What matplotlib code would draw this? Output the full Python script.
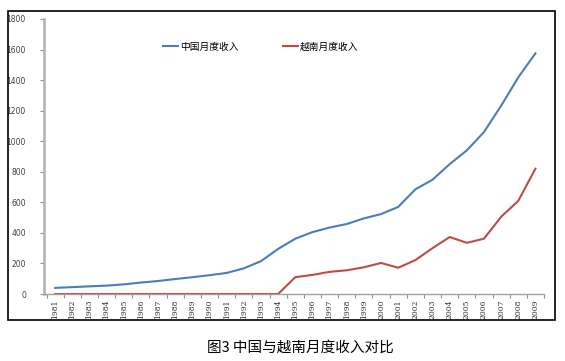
import matplotlib
matplotlib.use("Agg")
import matplotlib.pyplot as plt
from matplotlib.patches import Rectangle

plt.rcParams['font.family'] = ['Noto Sans CJK SC', 'DejaVu Sans']

years = [str(y) for y in range(1981, 2010)]
china = [40, 45, 50, 55, 63, 75, 85, 98, 110, 123, 138, 168, 215, 295, 362,
         405, 435, 458, 495, 523, 570, 685, 748, 850, 940, 1060, 1232, 1418, 1575]
vietnam = [0, 0, 0, 0, 0, 0, 0, 0, 0, 0, 0, 0, 0, 0, 110,
           125, 145, 155, 175, 203, 172, 222, 300, 373, 335, 362, 505, 610, 820]
yticks = [0, 200, 400, 600, 800, 1000, 1200, 1400, 1600, 1800]

W, H = 565, 361
fig = plt.figure(figsize=(W / 100, H / 100), dpi=100)
fig.patch.set_facecolor('white')

# outer chart border
fig.patches.append(Rectangle((8 / W, 1 - 320 / H), 547 / W, 309 / H,
                             transform=fig.transFigure, fill=False,
                             edgecolor='black', linewidth=1.2))

ax = fig.add_axes([44 / W, 1 - 294 / H, 500 / W, 275 / H])
x = list(range(len(years)))
ax.plot(x, china, color='#4A7EBB', linewidth=1.5, label='中国月度收入')
ax.plot(x, vietnam, color='#BE4B48', linewidth=1.5, label='越南月度收入')

ax.set_xlim(-0.65, 28.5)
ax.set_ylim(0, 1800)
ax.set_yticks(yticks)
ax.set_yticklabels([str(v) for v in yticks], fontsize=5.5, color='#404040',
                   family='DejaVu Sans')
ax.set_xticks(x)
ax.set_xticklabels(years, rotation=90, fontsize=5.5, family='DejaVu Serif',
                   color='#303030')
ax.set_xticks([i - 0.5 for i in range(len(years) + 1)], minor=True)
ax.tick_params(axis='x', which='major', length=0, pad=4)
ax.tick_params(axis='x', which='minor', length=3, color='#909090', width=0.8)
ax.tick_params(axis='y', length=3, color='#909090', width=0.8, pad=10)

for s in ['top', 'right']:
    ax.spines[s].set_visible(False)
ax.spines['left'].set_color('#B0B0B0')
ax.spines['left'].set_linewidth(1.8)
ax.spines['bottom'].set_color('#A0A0A0')
ax.spines['bottom'].set_linewidth(1.0)

ax.legend(loc='upper left', bbox_to_anchor=(0.22, 0.95), ncol=2, frameon=False,
          fontsize=7, handlelength=1.6, handletextpad=0.2, columnspacing=4.5)

fig.text(300 / W, 1 - 348 / H, '图3 中国与越南月度收入对比', ha='center',
         va='center', fontsize=10.5)

fig.savefig('out.png', dpi=100, facecolor='white')
